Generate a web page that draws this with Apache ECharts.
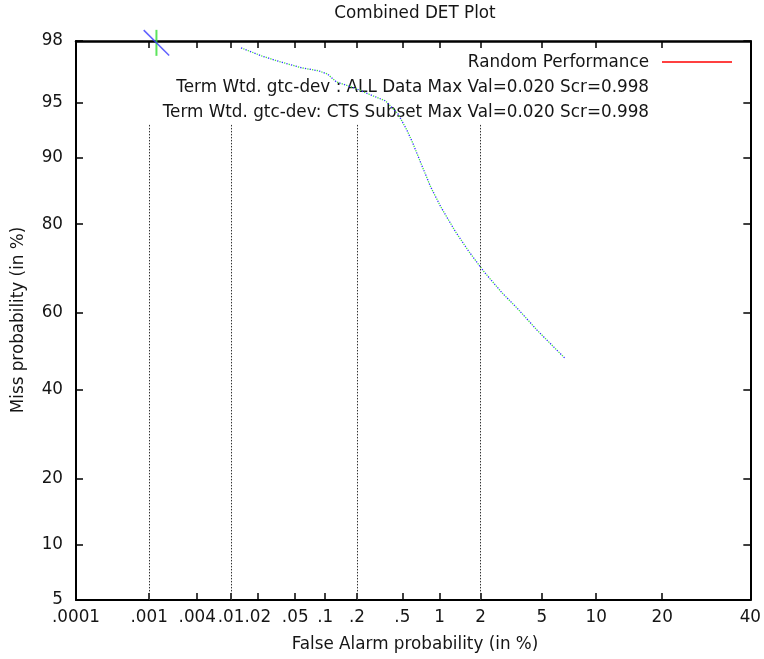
<!DOCTYPE html>
<html>
<head>
<meta charset="utf-8">
<script src="https://cdn.jsdelivr.net/npm/echarts@6/dist/echarts.min.js"></script>
<style>
  html, body { margin: 0; padding: 0; background: #ffffff; }
  #chart { width: 764px; height: 659px; }
</style>
</head>
<body>
<div id="chart"></div>
<script>
// Tick labels on both probability axes (in %)
const faTickLabels = ['.0001', '.001', '.004', '.01', '.02', '.05', '.1', '.2', '.5', '1', '2', '5', '10', '20', '40'];
const missTickLabels = ['5', '10', '20', '40', '60', '80', '90', '95', '98'];

// False-alarm values (in %) that get a dotted vertical reference line
const faReferenceLines = [0.001, 0.01, 0.2, 2];

// DET curve points: false alarm / miss probability (in %)
const falseAlarm = [0.013, 0.022, 0.035, 0.058, 0.086, 0.105, 0.128, 0.19, 0.28, 0.36, 0.46, 0.545,
                    0.61, 0.72, 0.85, 1.02, 1.32, 1.66, 2.12, 2.81, 3.51, 4.67, 6.11, 6.78];
const missAllData = [97.77, 97.47, 97.23, 96.97, 96.83, 96.68, 96.27, 95.93, 95.45, 95.13, 94.2, 92.86,
                     91.61, 89.14, 86.18, 83.05, 78.54, 74.48, 70.05, 65.06, 61.31, 55.64, 50.38, 48.27];
const missCtsSubset = [97.77, 97.47, 97.23, 96.97, 96.83, 96.68, 96.27, 95.93, 95.45, 95.13, 94.2, 92.86,
                       91.61, 89.14, 86.18, 83.05, 78.54, 74.48, 70.05, 65.06, 61.31, 55.64, 50.38, 48.27];

// Max-value operating point of each system (in %)
const maxValFa = [0.00124];
const maxValMiss = [97.94];

// Legend lines
const legendLines = [
  'Random Performance',
  'Term Wtd. gtc-dev : ALL Data Max Val=0.020 Scr=0.998',
  'Term Wtd. gtc-dev: CTS Subset Max Val=0.020 Scr=0.998'
];

// Axis ranges (in %)
const faRange = [0.0001, 40];
const missRange = [5, 98];
// The key box hides the reference lines above this miss probability
const keyBottomMiss = 93.3;

// Inverse standard normal CDF (Acklam's rational approximation)
function probit(p) {
  const a = [-3.969683028665376e+01, 2.209460984245205e+02, -2.759285104469687e+02, 1.383577518672690e+02, -3.066479806614716e+01, 2.506628277459239e+00];
  const b = [-5.447609879822406e+01, 1.615858368580409e+02, -1.556989798598866e+02, 6.680131188771972e+01, -1.328068155288572e+01];
  const c = [-7.784894002430293e-03, -3.223964580411365e-01, -2.400758276161838e+00, -2.549732539343734e+00, 4.374664141464968e+00, 2.938163982698783e+00];
  const d = [7.784695709041462e-03, 3.224671290700398e-01, 2.445134137142996e+00, 3.754408661907416e+00];
  const pl = 0.02425, ph = 1 - pl;
  let q, r;
  if (p < pl) {
    q = Math.sqrt(-2 * Math.log(p));
    return (((((c[0] * q + c[1]) * q + c[2]) * q + c[3]) * q + c[4]) * q + c[5]) /
           ((((d[0] * q + d[1]) * q + d[2]) * q + d[3]) * q + 1);
  }
  if (p <= ph) {
    q = p - 0.5; r = q * q;
    return (((((a[0] * r + a[1]) * r + a[2]) * r + a[3]) * r + a[4]) * r + a[5]) * q /
           (((((b[0] * r + b[1]) * r + b[2]) * r + b[3]) * r + b[4]) * r + 1);
  }
  q = Math.sqrt(-2 * Math.log(1 - p));
  return -(((((c[0] * q + c[1]) * q + c[2]) * q + c[3]) * q + c[4]) * q + c[5]) /
          ((((d[0] * q + d[1]) * q + d[2]) * q + d[3]) * q + 1);
}
// Percent -> normal deviate (DET scale)
const dev = pct => probit(pct / 100);

const faTickDev = faTickLabels.map(t => dev(parseFloat(t)));
const missTickDev = missTickLabels.map(t => dev(parseFloat(t)));

function labelFor(devs, labels) {
  return v => {
    let best = 0;
    for (let i = 1; i < devs.length; i++) {
      if (Math.abs(devs[i] - v) < Math.abs(devs[best] - v)) best = i;
    }
    return labels[best];
  };
}

const FONT = 'DejaVu Sans';
const FONT_SIZE = 16.8;
const TEXT = '#151515';
const font = FONT_SIZE + 'px "' + FONT + '"';

const curve = miss => falseAlarm.map((f, i) => [dev(f), dev(miss[i])]);

const axisLineStyle = { show: true, onZero: false, lineStyle: { color: '#000', width: 2 } };
const tickStyle = { show: true, inside: true, length: 7, lineStyle: { color: '#000', width: 1.5 } };

const chart = echarts.init(document.getElementById('chart'), null, { renderer: 'canvas' });

chart.setOption({
  animation: false,
  backgroundColor: '#ffffff',
  grid: { left: 76, right: 9, top: 41, bottom: 59, containLabel: false },
  xAxis: [
    {
      type: 'value', position: 'bottom',
      min: dev(faRange[0]), max: dev(faRange[1]),
      axisLine: axisLineStyle,
      axisTick: Object.assign({ customValues: faTickDev }, tickStyle),
      axisLabel: {
        customValues: faTickDev, formatter: labelFor(faTickDev, faTickLabels),
        margin: 9, fontFamily: FONT, fontSize: FONT_SIZE, color: TEXT
      },
      splitLine: { show: false }
    },
    {
      type: 'value', position: 'top',
      min: dev(faRange[0]), max: dev(faRange[1]),
      axisLine: Object.assign({}, axisLineStyle, { lineStyle: { color: '#000', width: 2.5 } }),
      axisTick: Object.assign({ customValues: faTickDev }, tickStyle),
      axisLabel: { show: false },
      splitLine: { show: false }
    }
  ],
  yAxis: [
    {
      type: 'value', position: 'left',
      min: dev(missRange[0]), max: dev(missRange[1]),
      axisLine: axisLineStyle,
      axisTick: Object.assign({ customValues: missTickDev }, tickStyle),
      axisLabel: {
        customValues: missTickDev, formatter: labelFor(missTickDev, missTickLabels),
        margin: 13, fontFamily: FONT, fontSize: FONT_SIZE, color: TEXT
      },
      splitLine: { show: false }
    },
    {
      type: 'value', position: 'right',
      min: dev(missRange[0]), max: dev(missRange[1]),
      axisLine: axisLineStyle,
      axisTick: Object.assign({ customValues: missTickDev }, tickStyle),
      axisLabel: { show: false },
      splitLine: { show: false }
    }
  ],
  series: [
    {
      name: legendLines[1],
      type: 'line',
      data: curve(missAllData),
      showSymbol: false,
      clip: false,
      lineStyle: { color: '#3535ff', width: 1.3, type: [1.3, 3.5], dashOffset: 0 },
      z: 3,
      markLine: {
        silent: true,
        symbol: 'none',
        label: { show: false },
        lineStyle: { color: '#333', width: 1, type: [1.5, 1.5] },
        data: faReferenceLines.map(f => [
          { coord: [dev(f), dev(keyBottomMiss)] },
          { coord: [dev(f), dev(missRange[0])] }
        ])
      }
    },
    {
      name: legendLines[2],
      type: 'line',
      data: curve(missCtsSubset),
      showSymbol: false,
      clip: false,
      lineStyle: { color: '#44e044', width: 1.3, type: [1.3, 3.5], dashOffset: 2.4 },
      z: 2
    },
    {
      name: 'max-val-all',
      type: 'scatter',
      data: maxValFa.map((f, i) => [dev(f), dev(maxValMiss[i])]),
      symbol: 'rect',
      symbolSize: [1.5, 36],
      symbolRotate: 45,
      itemStyle: { color: '#3a3aff' },
      clip: false,
      z: 4
    },
    {
      name: 'max-val-cts',
      type: 'scatter',
      data: maxValFa.map((f, i) => [dev(f), dev(maxValMiss[i])]),
      symbol: 'rect',
      symbolSize: [2, 26],
      itemStyle: { color: '#33dd33' },
      clip: false,
      z: 3
    }
  ],
  graphic: [
    {
      type: 'text', x: 415, y: 14,
      style: { text: 'Combined DET Plot', font: font, fill: TEXT, align: 'center', verticalAlign: 'middle' }
    },
    {
      type: 'text', x: 415, y: 645,
      style: { text: 'False Alarm probability (in %)', font: font, fill: TEXT, align: 'center', verticalAlign: 'middle' }
    },
    {
      type: 'text', x: 19, y: 320, rotation: Math.PI / 2,
      style: { text: 'Miss probability (in %)', font: font, fill: TEXT, align: 'center', verticalAlign: 'middle' }
    },
    {
      type: 'text', x: 649, y: 63,
      style: { text: legendLines[0], font: font, fill: TEXT, align: 'right', verticalAlign: 'middle' }
    },
    {
      type: 'line', shape: { x1: 662, y1: 62, x2: 732, y2: 62 },
      style: { stroke: '#ff0000', lineWidth: 1.5 }
    },
    {
      type: 'text', x: 649, y: 88,
      style: { text: legendLines[1], font: font, fill: TEXT, align: 'right', verticalAlign: 'middle' }
    },
    {
      type: 'text', x: 649, y: 113,
      style: { text: legendLines[2], font: font, fill: TEXT, align: 'right', verticalAlign: 'middle' }
    }
  ]
});
</script>
</body>
</html>
